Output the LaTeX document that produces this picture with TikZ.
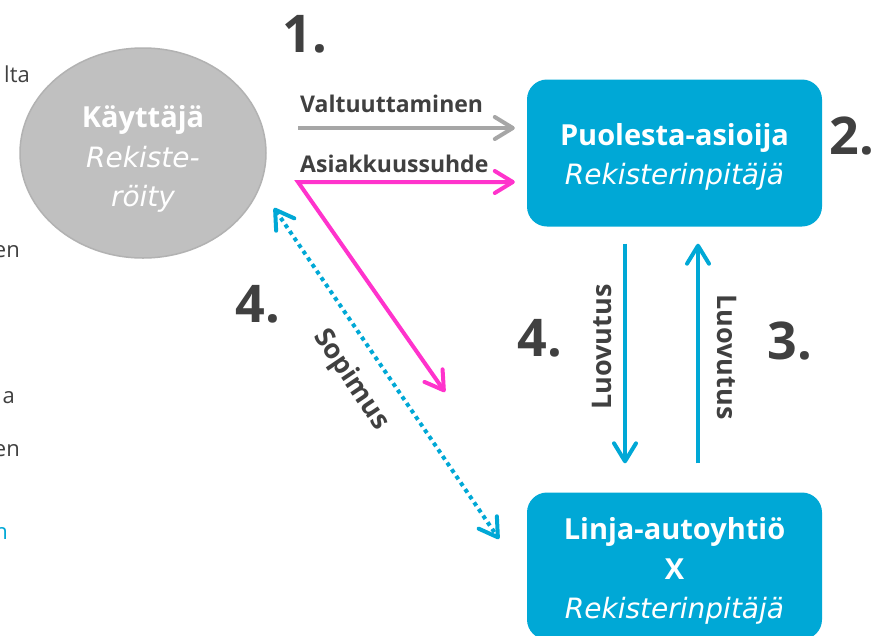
\documentclass[tikz,border=0pt]{standalone}
\usepackage{fontspec}
\setmainfont{Open Sans}
\newfontfamily\obliqueFont{DejaVu Sans}
\usetikzlibrary{positioning,arrows.meta,shapes.geometric}
\definecolor{boxColor}{RGB}{0,168,214}
\definecolor{userColor}{RGB}{192,192,192}
\definecolor{userBorder}{RGB}{178,178,178}
\definecolor{textColor}{RGB}{64,64,64}
\definecolor{pinkColor}{RGB}{255,51,204}
\definecolor{grayColor}{RGB}{166,166,166}
\tikzstyle{diagram} = [x=1pt, y=-1pt]
\tikzstyle{boxStyle} = [fill=boxColor, rounded corners=20pt, minimum width=295pt, minimum height=147pt]
\tikzstyle{userStyle} = [ellipse, fill=userColor, draw=userBorder, line width=1.5pt, minimum width=246pt, minimum height=210pt, inner sep=0pt]
\tikzstyle{partyText} = [text=white, align=center, inner sep=0pt, font=\fontsize{29}{39.5}\selectfont]
\tikzstyle{numberText} = [text=textColor, font=\fontsize{52}{52}\selectfont\bfseries, inner sep=0pt]
\tikzstyle{labelText} = [text=textColor, font=\fontsize{23}{26}\selectfont\bfseries, inner sep=0pt]
\tikzstyle{turnedText} = [text=textColor, font=\fontsize{27}{30}\selectfont\bfseries, inner sep=0pt]
\tikzstyle{sideText} = [text=textColor, font=\fontsize{22}{24}\selectfont, inner sep=0pt, anchor=base east]
\tikzstyle{arrowLine} = [line width=4pt, -{Straight Barb[round, length=18pt, width=22pt]}]
\tikzstyle{bothArrow} = [line width=4pt, {Straight Barb[round, length=18pt, width=22pt]}-{Straight Barb[round, length=18pt, width=22pt]}]
\newcommand{\bigNumber}[3]{\node [numberText] (#1) at (#2) {#3};}
\newcommand{\regText}[1]{{\obliqueFont\itshape\fontsize{28}{39.5}\selectfont #1}}

\begin{document}
\begin{tikzpicture}[diagram]
  \useasboundingbox [fill=white] (0,0) rectangle (874,635);

  % left margin text
  \node [sideText] (sideA) at (30,82) {lta};
  \node [sideText] (sideB) at (20,257) {en};
  \node [sideText] (sideC) at (15,403) {a};
  \node [sideText] (sideD) at (20,456) {en};
  \node [sideText, text=boxColor] (sideE) at (8,539) {n};

  % parties
  \node [userStyle] (kayttaja) at (143,153) {};
  \node [partyText] (kayttajaText) at (143,159) {\textbf{Käyttäjä}\\\regText{Rekiste-}\\\regText{röity}};
  \node [boxStyle] (puolesta) at (674.5,153) {};
  \node [partyText] (puolestaText) at (674.5,157) {\textbf{Puolesta-asioija}\\\regText{Rekisterinpitäjä}};
  \node [boxStyle] (linja) at (674.5,566) {};
  \node [partyText] (linjaText) at (674.5,571) {\textbf{Linja-autoyhtiö}\\\textbf{X}\\\regText{Rekisterinpitäjä}};

  % steps
  \bigNumber{stepOne}{305,34}{1.}
  \bigNumber{stepTwo}{852,136}{2.}
  \bigNumber{stepThree}{790,341}{3.}
  \bigNumber{stepFourMid}{540,338}{4.}
  \bigNumber{stepFourLeft}{258,304}{4.}

  % user to puolesta
  \coordinate (grayStart) at (298,128);
  \coordinate (pinkStart) at (298,182);
  \coordinate (pinkEnd) at (445,392);
  \draw [arrowLine, grayColor, shorten >=12pt] (grayStart) -- (grayStart -| puolesta.west);
  \node [labelText, anchor=base west] (valtuutus) at (300,112) {Valtuuttaminen};
  \draw [bothArrow, pinkColor, shorten <=12pt] (pinkStart -| puolesta.west) -- (pinkStart) -- (pinkEnd);
  \node [labelText, anchor=base west] (asiakkuus) at (300,172) {Asiakkuussuhde};

  % contract
  \coordinate (sopimusTop) at (274,208);
  \coordinate (sopimusBottom) at (499,539);
  \draw [bothArrow, boxColor, dash pattern=on 4pt off 4pt] (sopimusTop) -- (sopimusBottom);
  \node [turnedText, rotate=-56] (sopimus) at (351,380) {Sopimus};

  % hand over
  \coordinate (downX) at (625,0);
  \coordinate (upX) at (698,0);
  \draw [arrowLine, boxColor, shorten <=17pt, shorten >=29pt] (downX |- puolesta.south) -- (downX |- linja.north);
  \draw [arrowLine, boxColor, shorten <=29pt, shorten >=17pt] (upX |- linja.north) -- (upX |- puolesta.south);
  \node [turnedText, rotate=90] (luovutusDown) at (602,347) {Luovutus};
  \node [turnedText, rotate=-90] (luovutusUp) at (727,357) {Luovutus};
\end{tikzpicture}
\end{document}
